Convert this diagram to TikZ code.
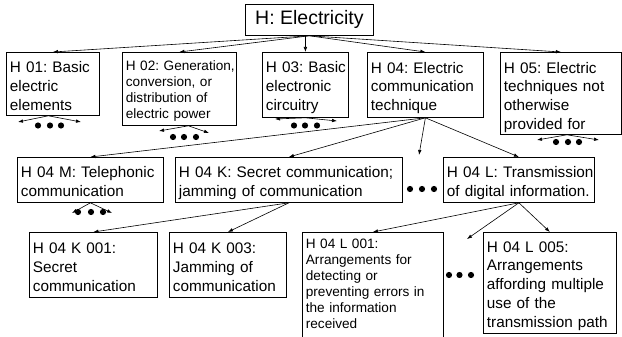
\documentclass[tikz,border=0pt]{standalone}
\usepackage{fontspec}
\setmainfont{Liberation Sans}
\usetikzlibrary{arrows.meta}
\frenchspacing
\newcommand\Lines[1]{\begin{tabular}[t]{@{}l@{}}#1\end{tabular}}
\begin{document}
\begin{tikzpicture}[x=1pt,y=-1pt,
  box/.style={draw,line width=0.8pt,anchor=north west,inner xsep=3.5pt,inner ysep=0pt,
    align=left,font=\fontsize{15.3}{18.8}\selectfont},
  sbox/.style={box,font=\fontsize{13.6}{16}\selectfont},
  arr/.style={-{Latex[length=5pt,width=3.6pt]},line width=0.6pt},
  dotc/.style={fill=black}]
\useasboundingbox (0,0) rectangle (622,337);
\clip (0,0) rectangle (622,337);

% title
\node[draw,line width=0.8pt,anchor=north west,minimum width=128pt,minimum height=31pt,
  inner sep=0pt,font=\fontsize{19.5}{22}\selectfont] (title) at (245,4) {H: Electricity};

% row 1
\node[box,text width=86pt,text height=20.5pt,text depth=42.5pt] (h01) at (6,52)
  {\Lines{H 01: Basic\\electric\\elements}};
\node[sbox,text width=107pt,text height=18pt,text depth=55pt] (h02) at (122,52)
  {\Lines{H 02: Generation,\\conversion, or\\distribution of\\electric power}};
\node[box,text width=79pt,text height=20.5pt,text depth=44.5pt] (h03) at (262,52)
  {\Lines{H 03: Basic\\electronic\\circuitry}};
\node[box,text width=109pt,text height=20.7pt,text depth=44.3pt] (h04) at (367,52)
  {\Lines{H 04: Electric\\communication\\technique}};
\node[box,text width=114pt,text height=20.7pt,text depth=61.3pt] (h05) at (500,52)
  {\Lines{H 05: Electric\\techniques not\\otherwise\\provided for}};

% row 2
\node[box,text width=139pt,text height=19.8pt,text depth=25.2pt] (hm) at (17,157)
  {\Lines{H 04 M: Telephonic\\communication}};
\node[box,text width=220pt,text height=19.8pt,text depth=25.2pt] (hk) at (175,157)
  {\Lines{H 04 K: Secret communication;\\jamming of communication}};
\node[box,text width=144pt,text height=19.8pt,text depth=25.2pt] (hl) at (443,157)
  {\Lines{H 04 L: Transmission\\of digital information.}};

% row 3
\node[box,text width=121pt,text height=21pt,text depth=44pt] (k001) at (29,232)
  {\Lines{H 04 K 001:\\Secret\\communication}};
\node[box,text width=110pt,text height=21pt,text depth=44pt] (k003) at (169,232)
  {\Lines{H 04 K 003:\\Jamming of\\communication}};
\node[sbox,text width=134pt,text height=16pt,text depth=120pt] (l001) at (302,232)
  {\Lines{H 04 L 001:\\Arrangements for\\detecting or\\preventing errors in\\the information\\received}};
\node[box,text width=126pt,text height=19.7pt,text depth=81.3pt] (l005) at (483,232)
  {\Lines{H 04 L 005:\\Arrangements\\affording multiple\\use of the\\transmission path}};

% free ends
\coordinate (a01l) at (18,122);  \coordinate (a01r) at (81,122);
\coordinate (a02l) at (159,131); \coordinate (a02r) at (209,133);
\coordinate (a03l) at (275,119); \coordinate (a03r) at (337,121);
\coordinate (a05l) at (537,140); \coordinate (a05r) at (599,140);
\coordinate (aml) at (72,213);   \coordinate (amr) at (112,213);
\coordinate (dk) at (419,155);
\coordinate (dl) at (467,239);

% connectors from title
\draw[arr] (title.south) -- (h01.north);
\draw[arr] (title.south) -- (h02.north);
\draw[arr] (title.south -| h03.north) -- (h03.north);
\draw[arr] (title.south) -- (h04.north);
\draw[arr] (title.south) -- (h05.north);

% from H04
\draw[arr] (h04.south) -- (hm.north);
\draw[arr] (h04.south) -- (hk.north);
\draw[arr] (h04.south) -- (dk);
\draw[arr] (h04.south) -- (hl.north);

% from H04K and H04L
\draw[arr] (hk.south) -- (k001.north);
\draw[arr] (hk.south) -- (k003.north);
\draw[arr] (hl.south) -- (l001.north);
\draw[arr] (hl.south) -- (dl);
\draw[arr] (hl.south) -- (l005.north);

% small fan arrows
\draw[arr] ([xshift=-4.5pt]h01.south) -- (a01l);
\draw[arr] ([xshift=-4.5pt]h01.south) -- (a01r);
\draw[arr] ([xshift=9pt]h02.south) -- (a02l);
\draw[arr] ([xshift=9pt]h02.south) -- (a02r);
\draw[arr] (h03.south) -- (a03l);
\draw[arr] (h03.south) -- (a03r);
\draw[arr] ([xshift=6pt]h05.south) -- (a05l);
\draw[arr] ([xshift=6pt]h05.south) -- (a05r);
\draw[arr] (hm.south) -- (aml);
\draw[arr] (hm.south) -- (amr);

% ellipsis dots
\foreach \x/\y in {38/125.5,50/125.5,61/125.5,
                   173/137,184/137,196/137,
                   294/125.5,305/125.5,317/125.5,
                   556/142,568/142,579/142,
                   78/212,91/212,103/212,
                   410/189,422/189,434/189,
                   449/275,459.5/275,471/275}
  \fill[dotc] (\x,\y) circle (3.1pt);
\end{tikzpicture}
\end{document}
